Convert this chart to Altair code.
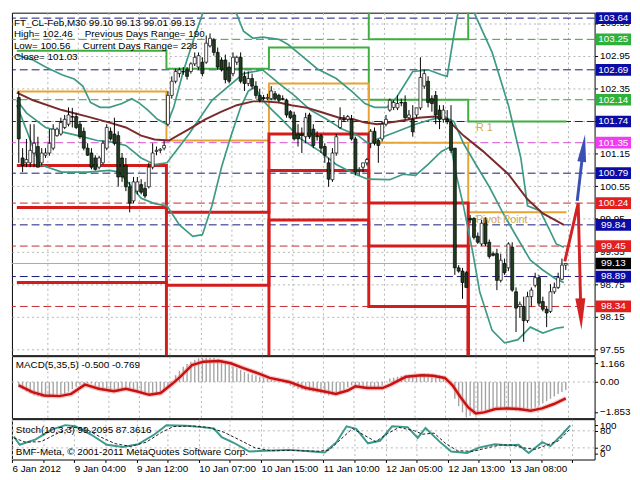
import json
import altair as alt
import pandas as pd

# ---------------- data ----------------
OPEN = [102.18, 101.07, 100.98, 100.98, 101.16, 101.28, 100.98, 101.12, 101.16, 101.25,
        101.48, 101.51, 101.63, 101.69, 101.83, 101.83, 101.69, 101.56, 101.25, 101.16,
        101.07, 100.90, 100.98, 101.25, 101.56, 101.51, 101.48, 101.07, 100.93, 100.54,
        100.28, 100.46, 100.58, 100.51, 100.54, 100.90, 101.19, 101.21, 101.25, 101.69,
        102.22, 102.48, 102.62, 102.66, 102.69, 102.66, 102.80, 102.74, 102.83, 102.83,
        103.13, 103.24, 103.01, 102.87, 102.87, 102.74, 102.62, 102.83, 102.92, 102.57,
        102.44, 102.53, 102.39, 102.22, 102.18, 102.16, 102.16, 102.25, 102.22, 102.16,
        102.13, 101.92, 101.86, 101.51, 101.51, 101.46, 101.86, 101.60, 101.48, 101.48,
        101.28, 100.98, 100.67, 101.16, 101.63, 101.78, 101.78, 101.78, 101.42, 100.84,
        100.90, 100.98, 101.34, 101.56, 101.39, 101.42, 101.69, 101.95, 102.00, 101.99,
        102.09, 102.09, 101.81, 101.78, 101.86, 101.99, 102.39, 102.48, 102.16, 102.22,
        101.95, 101.78, 101.78, 101.72, 101.25, 99.05, 98.99, 98.96, 99.96, 99.96,
        99.63, 99.49, 99.96, 99.52, 99.31, 99.31, 98.82, 99.13, 99.05, 99.43,
        98.61, 98.34, 98.34, 98.08, 98.52, 98.73, 98.87, 98.43, 98.29, 98.25,
        98.61, 98.69, 98.84, 99.10]
HIGH = [102.30, 101.25, 101.42, 101.69, 101.69, 101.46, 101.25, 101.25, 101.60, 101.69,
        101.63, 101.81, 101.86, 102.00, 101.99, 101.90, 101.74, 101.63, 101.34, 101.25,
        101.12, 101.11, 101.39, 101.69, 101.63, 101.81, 101.56, 101.16, 101.07, 100.63,
        100.72, 100.72, 100.68, 100.63, 100.98, 101.34, 101.28, 101.25, 101.39, 102.30,
        102.57, 102.71, 102.73, 102.74, 102.74, 102.83, 103.01, 103.01, 102.92, 103.32,
        103.36, 103.27, 103.10, 102.92, 102.97, 102.83, 103.01, 102.95, 103.01, 102.66,
        102.66, 102.62, 102.48, 102.34, 102.23, 102.25, 102.39, 102.30, 102.25, 102.22,
        102.16, 101.95, 101.92, 101.69, 101.63, 101.90, 101.90, 101.69, 101.56, 101.51,
        101.34, 101.07, 101.25, 101.51, 102.00, 101.86, 101.86, 101.86, 101.46, 100.90,
        100.98, 101.07, 101.60, 101.63, 101.42, 101.74, 101.86, 102.16, 102.13, 102.22,
        102.16, 102.22, 101.95, 102.04, 101.99, 102.92, 102.69, 102.57, 102.22, 102.30,
        102.04, 102.04, 101.95, 102.04, 101.25, 99.10, 99.05, 98.99, 100.02, 99.98,
        99.70, 99.93, 99.98, 99.57, 99.35, 99.40, 99.31, 99.22, 99.52, 99.52,
        98.69, 98.43, 98.52, 98.61, 98.69, 98.96, 98.92, 98.52, 98.34, 98.75,
        98.78, 98.96, 99.22, 99.13]
LOW = [100.98, 100.81, 100.90, 100.90, 100.90, 100.90, 100.93, 101.07, 101.11, 101.21,
       101.46, 101.48, 101.60, 101.65, 101.63, 101.60, 101.42, 101.21, 101.11, 100.86,
       100.84, 100.86, 100.95, 101.21, 101.39, 101.30, 100.54, 100.63, 100.46, 100.07,
       100.24, 100.40, 100.40, 100.33, 100.51, 100.86, 101.12, 101.16, 101.21, 101.65,
       102.16, 102.44, 102.55, 102.60, 102.51, 102.62, 102.76, 102.69, 102.57, 102.80,
       103.10, 102.95, 102.69, 102.66, 102.44, 102.44, 102.57, 102.78, 102.44, 102.30,
       102.39, 102.34, 102.16, 102.09, 102.13, 102.13, 102.13, 102.13, 102.09, 102.13,
       101.81, 101.78, 101.39, 101.28, 101.16, 101.34, 101.42, 101.25, 101.39, 101.16,
       100.98, 100.54, 100.63, 101.11, 101.60, 101.74, 101.74, 101.39, 100.75, 100.75,
       100.81, 100.93, 101.25, 101.30, 100.98, 101.37, 101.65, 101.92, 101.95, 101.95,
       102.02, 101.78, 101.78, 101.46, 101.81, 101.95, 102.34, 102.00, 101.92, 101.69,
       101.60, 101.72, 101.69, 101.16, 98.92, 98.96, 98.48, 98.69, 99.87, 99.57,
       99.49, 99.45, 99.45, 99.22, 99.26, 98.64, 98.78, 98.92, 98.99, 98.61,
       97.87, 98.13, 97.69, 98.04, 98.34, 98.69, 98.34, 98.25, 97.96, 98.22,
       98.57, 98.66, 98.82, 99.01]
CLOSE = [101.42, 100.93, 101.04, 101.21, 101.34, 100.90, 101.16, 101.16, 101.34, 101.60,
         101.60, 101.72, 101.78, 101.86, 101.82, 101.63, 101.46, 101.25, 101.12, 100.90,
         100.86, 101.07, 101.34, 101.63, 101.42, 101.34, 100.72, 100.72, 100.54, 100.24,
         100.63, 100.63, 100.44, 100.37, 100.90, 101.16, 101.21, 101.23, 101.30, 102.22,
         102.48, 102.66, 102.69, 102.65, 102.57, 102.80, 102.92, 102.95, 102.62, 103.18,
         103.27, 103.01, 102.74, 102.69, 102.51, 102.48, 102.92, 102.92, 102.48, 102.44,
         102.53, 102.39, 102.22, 102.13, 102.16, 102.18, 102.30, 102.16, 102.13, 102.15,
         101.86, 101.81, 101.42, 101.42, 101.48, 101.81, 101.46, 101.30, 101.46, 101.25,
         101.12, 100.68, 101.16, 101.46, 101.78, 101.77, 101.83, 101.42, 100.81, 100.86,
         100.98, 101.04, 101.56, 101.34, 101.30, 101.69, 101.78, 102.13, 102.09, 102.07,
         102.08, 101.81, 101.86, 101.55, 101.99, 102.55, 102.62, 102.09, 102.07, 101.86,
         101.78, 101.95, 101.74, 101.21, 99.05, 98.99, 98.78, 98.69, 99.93, 99.61,
         99.52, 99.87, 99.49, 99.26, 99.28, 98.82, 99.19, 98.96, 99.49, 98.64,
         98.31, 98.38, 98.08, 98.52, 98.64, 98.87, 98.40, 98.29, 98.22, 98.61,
         98.69, 98.87, 99.10, 99.13]

BID = 99.13
PRICE_TICKS = [97.55, 98.15, 98.75, 99.35, 99.95, 100.55, 101.15, 101.75, 102.35, 102.95, 103.55]

LEVEL_PRICES = [103.64, 103.25, 102.69, 102.14, 101.74, 101.35, 100.79, 100.24, 99.84, 99.45, 98.89, 98.34]
LEVEL_KINDS = ["navy", "green", "navy", "green", "navy", "magenta", "navy", "red", "navy", "red", "navy", "red"]

DAY_START = [-0.5, 38.6, 65.4, 91.5, 117.5]
PIVOT_END = 143.2
PIVOT_R2 = [104.3, 104.3, 104.3, 103.25, 104.3]
PIVOT_R1 = [103.04, 102.71, 103.10, 102.14, 101.74]
PIVOT_P = [102.29, 101.39, 102.44, 101.35, 100.07]
PIVOT_S1 = [100.93, 100.07, 101.51, 100.24, 97.0]
PIVOT_S2 = [100.16, 98.73, 100.84, 99.45, 97.0]
PIVOT_S3 = [98.78, 97.0, 99.93, 98.34, 97.0]

BB_UP_X = [-0.5, 3.75, 7, 11.25, 14.5, 16.75, 18.75, 21.25, 23.75, 27, 29.5, 31.25, 33.75, 36.25, 38.75,
           40.5, 43, 46.25, 48, 52.5, 57, 58.75, 61.25, 63.75, 68, 70.5, 73.75, 78, 83, 87, 90.5, 93,
           96.25, 98.75, 103, 107, 110.5, 112, 113, 114.25, 115.25, 117, 119.25, 123.75, 128, 131.25,
           133, 136.25, 138.75, 140.5, 142.5]
BB_UP_P = [102.96, 102.87, 102.74, 102.60, 102.52, 102.39, 102.09, 102.00, 102.00, 102.07, 102.16, 102.09,
           101.95, 101.78, 101.69, 102.00, 102.66, 103.36, 103.71, 104.42, 103.71, 103.40, 103.27, 103.29,
           103.25, 103.15, 102.96, 102.71, 102.53, 102.30, 102.07, 102.00, 102.00, 102.18, 102.66, 102.69,
           102.60, 102.57, 103.01, 103.54, 103.89, 104.15, 103.71, 103.01, 102.04, 101.07, 100.19, 100.10,
           99.75, 99.49, 99.43]
BB_MID_X = [-0.5, 2, 7, 11.25, 15.5, 20.5, 23.75, 28, 32, 35.5, 38.75, 44.5, 50.5, 58.75, 63.75, 68, 72,
            76.25, 80.5, 84.5, 88.75, 91.25, 93.75, 98.75, 103.75, 108, 111.25, 113.75, 116.25, 119.5,
            123, 126.25, 129.5, 133.75, 137, 140.5, 142.5]
BB_MID_P = [102.13, 101.90, 101.63, 101.55, 101.48, 101.39, 101.37, 101.30, 101.07, 100.95, 100.98, 101.51,
            102.13, 102.62, 102.69, 102.44, 102.22, 101.95, 101.78, 101.60, 101.48, 101.34, 101.42, 101.55,
            101.69, 101.78, 101.83, 101.74, 101.34, 100.95, 100.54, 100.10, 99.70, 99.19, 99.01, 98.84, 98.78]
BB_LOW_X = [-0.5, 5.5, 11.25, 18, 23.75, 26.25, 29.5, 32, 35.5, 38.75, 42, 45.5, 48, 50.5, 53, 55.5, 58,
            60, 61.75, 63.75, 66.25, 68.75, 73.75, 78.75, 83, 88, 91.25, 97, 100.5, 103.75, 107, 110.5,
            113, 114.5, 116.25, 118.75, 120.5, 123.75, 127, 130.5, 133.75, 137, 140.5, 142.5]
BB_LOW_P = [102.04, 100.95, 100.81, 100.81, 100.84, 100.81, 100.54, 100.33, 100.23, 100.19, 99.84, 99.63,
            99.66, 100.19, 100.90, 101.48, 102.00, 102.30, 102.37, 102.13, 101.95, 101.78, 101.42, 101.19,
            100.95, 100.77, 100.68, 100.67, 100.77, 100.75, 100.95, 101.19, 101.28, 100.72, 100.19, 99.31,
            98.61, 97.90, 97.67, 97.73, 97.96, 97.85, 97.94, 97.96]
MA_X = [-0.5, 3.75, 11.25, 18, 23.75, 28, 32, 35.5, 39.25, 44.5, 48.75, 53, 57, 61.25, 63.75, 68, 71.25,
        75.5, 78.75, 83.75, 87.5, 90.5, 93.75, 98.75, 104.5, 108.75, 112, 116.25, 121.25, 128, 133, 137, 142.5]
MA_P = [102.27, 102.13, 101.95, 101.83, 101.72, 101.63, 101.48, 101.41, 101.39, 101.60, 101.78, 101.92,
        102.04, 102.11, 102.11, 102.09, 102.04, 101.99, 101.92, 101.81, 101.78, 101.72, 101.69, 101.74,
        101.81, 101.83, 101.78, 101.48, 101.20, 100.77, 100.31, 100.05, 99.84]

ARROW_UP_X = [146.0, 147.6]
ARROW_UP_P = [100.28, 101.25]
ARROW_DN_X = [142.75, 146.25, 146.95]
ARROW_DN_P = [99.17, 100.24, 98.20]

MACD_HIST = [-0.30, -0.45, -0.60, -0.72, -0.84, -0.88, -0.92, -0.94, -0.95, -0.92, -0.86, -0.80,
             -0.74, -0.60, -0.45, -0.30, -0.17, -0.12, -0.10, -0.10, -0.25, -0.40, -0.53, -0.56,
             -0.58, -0.59, -0.59, -0.52, -0.45, -0.38, -0.46, -0.55, -0.63, -0.70, -0.78, -0.84,
             -0.80, -0.72, -0.63, -0.30, 0.05, 0.42, 0.70, 0.95, 1.12, 1.26, 1.38, 1.47,
             1.50, 1.51, 1.51, 1.48, 1.42, 1.37, 1.25, 1.10, 0.95, 0.85, 0.74, 0.63,
             0.53, 0.46, 0.40, 0.33, 0.27, 0.21, 0.15, 0.10, 0.05, 0.00, -0.10, -0.22,
             -0.32, -0.42, -0.47, -0.52, -0.56, -0.59, -0.65, -0.72, -0.78, -0.84, -0.78, -0.70,
             -0.63, -0.48, -0.33, -0.21, -0.28, -0.35, -0.42, -0.42, -0.43, -0.42, -0.40, -0.22,
             0.00, 0.21, 0.27, 0.32, 0.38, 0.42, 0.44, 0.45, 0.46, 0.49, 0.52, 0.53,
             0.50, 0.46, 0.42, 0.28, 0.10, -0.21, -1.05, -1.50, -1.89, -2.20, -2.10, -2.00,
             -1.90, -1.79, -1.74, -1.70, -1.68, -1.68, -1.66, -1.68, -1.72, -1.76, -1.79, -1.80,
             -1.80, -1.79, -1.68, -1.58, -1.47, -1.33, -1.19, -1.05, -0.90, -0.75, -0.62, -0.50]
MACD_SIG_X = [0, 3.6, 6.6, 10.7, 13.7, 17.3, 20.9, 24.9, 28, 31, 34.1, 37.1, 40.2, 42.2, 45.3, 48.3,
              52.4, 55.4, 58.5, 62.6, 65.6, 70.7, 74.8, 79.9, 82.9, 86, 88, 91.1, 95.1, 97.2, 101.2,
              105.3, 108.3, 111.4, 113.4, 115.5, 117.5, 119.5, 121.6, 124.6, 127.7, 130.7, 133.8,
              136.8, 139.9, 143]
MACD_SIG_V = [-0.21, -0.63, -0.84, -0.88, -0.74, -0.17, -0.42, -0.57, -0.42, -0.59, -0.80, -0.69,
              -0.10, 0.32, 1.05, 1.26, 1.30, 1.16, 0.88, 0.53, 0.25, 0.0, -0.36, -0.59, -0.74, -0.53,
              -0.27, -0.38, -0.38, -0.17, 0.32, 0.42, 0.38, 0.25, -0.21, -0.95, -1.58, -1.95, -1.89,
              -1.68, -1.64, -1.68, -1.79, -1.64, -1.37, -1.02]
MACD_TICKS = [1.166, 0.0, -1.853]

STO_X = [0, 1.5, 5.6, 9.7, 13.2, 15.8, 19.8, 23.9, 28, 32, 36.1, 39.2, 44.3, 48.3, 51.4, 53.4, 56.5,
         60.5, 64.6, 70.7, 76.8, 79.9, 82.9, 85.5, 88, 91, 94.1, 97.2, 101.2, 103.8, 105.8, 109.4,
         112.4, 116.5, 119.5, 123.6, 126.7, 129.7, 132.3, 135.8, 137.9, 140.9, 143]
STO_V = [60, 31, 50, 84, 100, 96, 67, 31, 23, 33, 67, 100, 98, 93, 88, 58, 38, 7, 10, 13, 7, 4, 40,
         96, 87, 36, 45, 96, 93, 55, 90, 42, 7, 2, 21, 33, 29, 31, 2, 40, 26, 67, 99.21]
STO_SIG_X = [0, 3, 7, 11, 15, 18, 22, 26, 30, 34, 38, 41, 46, 50, 54, 58, 62, 66, 72, 78, 81, 84, 87,
             90, 93, 96, 99, 103, 105, 108, 111, 114, 118, 121, 125, 128, 131, 134, 137, 140, 143]
STO_SIG_V = [55, 40, 42, 70, 92, 90, 60, 35, 25, 40, 75, 95, 97, 92, 75, 48, 20, 10, 11, 8, 12, 50, 88,
             65, 42, 70, 92, 80, 68, 72, 35, 10, 8, 18, 30, 30, 20, 15, 30, 45, 87.36]
STO_LEVELS = [20, 80]
STO_TICKS = [100, 80, 20, 0]

TIME_LABELS = ["6 Jan 2012", "9 Jan 04:00", "9 Jan 12:00", "10 Jan 07:00", "10 Jan 15:00",
               "11 Jan 10:00", "12 Jan 05:00", "12 Jan 13:00", "13 Jan 08:00"]
TIME_LABEL_BARS = [-0.5, 15.5, 31.5, 47.5, 63.5, 79.5, 95.5, 111.5, 127.5]

# ---------------- layout / style ----------------
W = 592
H_MAIN, H_MACD, H_STO = 348, 63, 41
X_DOM = [-0.5, 149.25]
P_DOM = [97.444, 103.74]
FONT = "Liberation Sans"
GRID_X = [-0.5 + 8 * k for k in range(1, 19)]
GRID_COLOR = "#b4b4b4"
LINE_COLORS = {"navy": "#16167e", "green": "#3c9c3c", "magenta": "#d24ed2", "red": "#c42a2a"}
BOX_COLORS = {"navy": "#0b0ba6", "green": "#2fb03a", "magenta": "#f03cf0", "red": "#e21e1e", "black": "#000000"}

ONE = pd.DataFrame({"k": [0]})


def xq(field, bottom_labels=False):
    if bottom_labels:
        vals = sorted(set(GRID_X + TIME_LABEL_BARS))
        expr = ("indexof(%s, datum.value) >= 0 ? %s[indexof(%s, datum.value)] : ''"
                % (json.dumps(TIME_LABEL_BARS), json.dumps(TIME_LABELS), json.dumps(TIME_LABEL_BARS)))
        axis = alt.Axis(values=vals, labelExpr=expr, grid=True, gridDash=[2, 3], gridColor=GRID_COLOR,
                        domain=False, tickSize=3, tickColor="black", labelAlign="left", labelPadding=1,
                        labelFontSize=10, labelFont=FONT, labelColor="black", labelOverlap=False,
                        labelFlush=False, title=None)
    else:
        axis = alt.Axis(values=GRID_X, labels=False, ticks=False, domain=False, grid=True,
                        gridDash=[2, 3], gridColor=GRID_COLOR, title=None, minExtent=0, maxExtent=0)
    return alt.X(f"{field}:Q", scale=alt.Scale(domain=X_DOM, nice=False, zero=False), axis=axis)


def yp(field):
    return alt.Y(f"{field}:Q", scale=alt.Scale(domain=P_DOM, nice=False, zero=False),
                 axis=alt.Axis(orient="right", values=PRICE_TICKS, format=".2f", grid=True,
                               gridDash=[2, 3], gridColor=GRID_COLOR, tickSize=3, tickColor="black",
                               labelFontSize=10, labelFont=FONT, labelColor="black", labelPadding=2,
                               domain=False, labelOverlap=False, labelFlush=False, title=None))


def ym(field):
    return alt.Y(f"{field}:Q", scale=alt.Scale(domain=[-2.25, 1.6], nice=False, zero=False),
                 axis=alt.Axis(orient="right", values=MACD_TICKS,
                               labelExpr="datum.value == 0 ? '0.00' : format(datum.value, '.3f')",
                               grid=False, tickSize=3, tickColor="black", labelFontSize=10,
                               labelFont=FONT, labelColor="black", labelPadding=2, domain=False,
                               labelOverlap=False, labelFlush=False, title=None))


def ys(field):
    return alt.Y(f"{field}:Q", scale=alt.Scale(domain=[-21, 121], nice=False, zero=False),
                 axis=alt.Axis(orient="right", values=STO_TICKS, grid=False, tickSize=3,
                               tickColor="black", labelFontSize=10, labelFont=FONT,
                               labelColor="black", labelPadding=2, labelAlign="left", domain=False,
                               labelOverlap=False, labelFlush=False, title=None))


def txt(s, x, y, size=10, color="black"):
    return alt.Chart(ONE).mark_text(text=s, x=x, y=y, fontSize=size, color=color, align="left",
                                    baseline="middle", font=FONT)


# ---------------- main price panel ----------------
candles = pd.DataFrame({"i": list(range(len(CLOSE))), "open": OPEN, "high": HIGH, "low": LOW, "close": CLOSE})
candles["dir"] = ["up" if c >= o else "down" for o, c in zip(OPEN, CLOSE)]

levels = pd.DataFrame({"p": LEVEL_PRICES, "kind": LEVEL_KINDS})

pivot_rows = []
for name, vals, grp in [("R2", PIVOT_R2, "res"), ("R1", PIVOT_R1, "res"), ("P", PIVOT_P, "piv"),
                        ("S1", PIVOT_S1, "sup"), ("S2", PIVOT_S2, "sup"), ("S3", PIVOT_S3, "sup")]:
    for xs_, v in zip(DAY_START, vals):
        pivot_rows.append({"s": name, "g": grp, "x": xs_, "p": v})
    pivot_rows.append({"s": name, "g": grp, "x": PIVOT_END, "p": vals[-1]})
pivots = pd.DataFrame(pivot_rows)

bands = pd.concat([
    pd.DataFrame({"s": "up", "x": BB_UP_X, "p": BB_UP_P}),
    pd.DataFrame({"s": "mid", "x": BB_MID_X, "p": BB_MID_P}),
    pd.DataFrame({"s": "low", "x": BB_LOW_X, "p": BB_LOW_P}),
])
ma = pd.DataFrame({"x": MA_X, "p": MA_P})

layers = []
layers.append(alt.Chart(pd.DataFrame({"p": [BID]})).mark_rule(color="#a8a8a8", strokeWidth=1).encode(y=yp("p")))
for kind, col in LINE_COLORS.items():
    layers.append(alt.Chart(levels[levels["kind"] == kind]).mark_rule(
        strokeDash=[8, 4], strokeWidth=1, color=col).encode(y=yp("p")))


def pivot_layer(grp, color, width):
    return alt.Chart(pivots[pivots["g"] == grp]).mark_line(
        interpolate="step-after", clip=True, color=color, strokeWidth=width).encode(
        x=xq("x"), y=yp("p"), detail="s:N")


layers += [pivot_layer("res", "#3fae3f", 2), pivot_layer("piv", "#e6a532", 2), pivot_layer("sup", "#d41c1c", 3)]
layers.append(alt.Chart(bands).mark_line(clip=True, color="#3d9a84", strokeWidth=1.7).encode(
    x=xq("x"), y=yp("p"), detail="s:N"))
layers.append(alt.Chart(ma).mark_line(clip=True, color="#7b2b2b", strokeWidth=2).encode(x=xq("x"), y=yp("p")))
layers.append(alt.Chart(candles).mark_rule(color="black", strokeWidth=1).encode(x=xq("i"), y=yp("low"), y2="high"))
layers.append(alt.Chart(candles).mark_bar(size=3, stroke="black", strokeWidth=0.7).encode(
    x=xq("i"), y=yp("open"), y2="close",
    fill=alt.Fill("dir:N", scale=alt.Scale(domain=["up", "down"], range=["white", "#1f3d1f"]), legend=None)))
layers.append(alt.Chart(pd.DataFrame({"x": [119.5, 119.5], "p": [101.62, 99.93], "t": ["R 1", "Pivot Point"]})).mark_text(
    align="left", baseline="middle", fontSize=11, color="#d8a84c", font=FONT).encode(x=xq("x"), y=yp("p"), text="t:N"))

# arrows
layers.append(alt.Chart(pd.DataFrame({"x": ARROW_UP_X, "p": ARROW_UP_P, "o": list(range(len(ARROW_UP_X)))})).mark_line(
    strokeWidth=3, color="#3b50b2").encode(x=xq("x"), y=yp("p"), order="o:Q"))
layers.append(alt.Chart(pd.DataFrame({"x": ARROW_DN_X, "p": ARROW_DN_P, "o": list(range(len(ARROW_DN_X)))})).mark_line(
    strokeWidth=3, color="#d42222").encode(x=xq("x"), y=yp("p"), order="o:Q"))
layers.append(alt.Chart(pd.DataFrame({"x": [ARROW_UP_X[-1]], "p": [ARROW_UP_P[-1]]})).mark_point(
    shape="M0,-1L0.32,1L-0.32,1Z", filled=True, size=784, angle=7, color="#3b50b2", opacity=1).encode(
    x=xq("x"), y=yp("p")))
layers.append(alt.Chart(pd.DataFrame({"x": [ARROW_DN_X[-1]], "p": [ARROW_DN_P[-1]]})).mark_point(
    shape="M0,1L-0.32,-1L0.32,-1Z", filled=True, size=1024, angle=358, color="#d42222", opacity=1).encode(
    x=xq("x"), y=yp("p")))

# price label boxes on the right scale
box_data = pd.DataFrame({"p": LEVEL_PRICES + [BID], "kind": LEVEL_KINDS + ["black"],
                         "t": [f"{v:.2f}" for v in LEVEL_PRICES + [BID]]})
for kind, col in BOX_COLORS.items():
    layers.append(alt.Chart(box_data[box_data["kind"] == kind]).mark_point(
        shape="M-1,-0.33L1,-0.33L1,0.33L-1,0.33Z", filled=True, size=1296, opacity=1, color=col).encode(
        x=alt.value(W + 19), y=yp("p")))
layers.append(alt.Chart(box_data).mark_text(color="white", fontSize=10, font=FONT, align="center",
                                            baseline="middle").encode(x=alt.value(W + 19), y=yp("p"), text="t:N"))

layers += [
    txt("FT_CL-Feb,M30  99.10 99.13 99.01 99.13", 2, 11),
    txt("High= 102.46", 2, 22), txt("Previous Days Range= 190", 74, 22),
    txt("Low= 100.56", 2, 34), txt("Current Days Range= 228", 72, 34),
    txt("Close= 101.03", 2, 45),
]
main = alt.layer(*layers).properties(width=W, height=H_MAIN)

# ---------------- MACD panel ----------------
hist = pd.DataFrame({"i": list(range(len(MACD_HIST))), "v": MACD_HIST})
sig = pd.DataFrame({"x": MACD_SIG_X, "v": MACD_SIG_V})
macd = alt.layer(
    alt.Chart(pd.DataFrame({"v": [0.0]})).mark_rule(color=GRID_COLOR, strokeDash=[2, 3]).encode(y=ym("v")),
    alt.Chart(hist).mark_bar(size=1.4, color="#a4a4a4").encode(x=xq("i"), y=ym("v")),
    alt.Chart(sig).mark_line(color="#f08a8a", strokeWidth=5, opacity=0.45).encode(x=xq("x"), y=ym("v")),
    alt.Chart(sig).mark_line(color="#c81212", strokeWidth=2.5).encode(x=xq("x"), y=ym("v")),
    txt("MACD(5,35,5) -0.500 -0.769", 4, 9),
).properties(width=W, height=H_MACD)

# ---------------- Stochastic panel ----------------
sto = pd.DataFrame({"x": STO_X, "v": STO_V})
sto_sig = pd.DataFrame({"x": STO_SIG_X, "v": STO_SIG_V})
stoch = alt.layer(
    alt.Chart(pd.DataFrame({"v": STO_LEVELS})).mark_rule(color=GRID_COLOR, strokeDash=[2, 3]).encode(y=ys("v")),
    alt.Chart(sto).mark_line(color="#3a9a8c", strokeWidth=2, clip=True).encode(x=xq("x", True), y=ys("v")),
    alt.Chart(sto_sig).mark_line(color="#202020", strokeWidth=1, strokeDash=[3, 2], clip=True).encode(
        x=xq("x", True), y=ys("v")),
    txt("Stoch(10,3,3) 99.2095 87.3616", 4, 11),
    txt("BMF-Meta, \u00a9 2001-2011 MetaQuotes Software Corp.", 4, 33),
).properties(width=W, height=H_STO)

chart = alt.vconcat(main, macd, stoch, spacing=1, bounds="flush").properties(
    padding=0, background="white").configure_view(stroke="black", strokeWidth=1).configure_axis(labelFont=FONT)

chart.save("out.html", embed_options={"renderer": "svg", "actions": False})
